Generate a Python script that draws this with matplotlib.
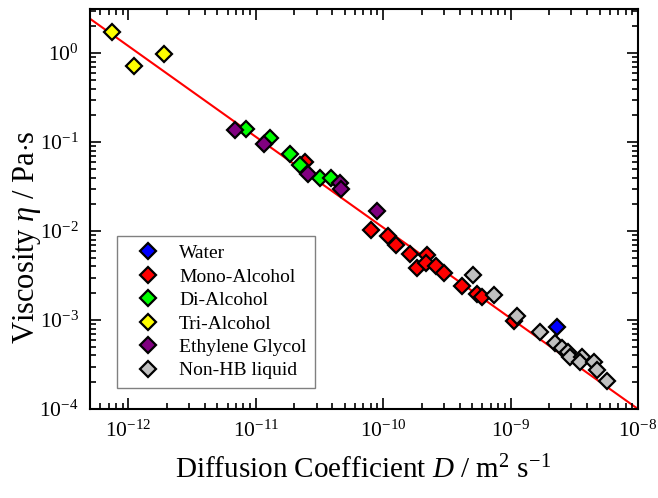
import numpy as np
import matplotlib
matplotlib.use("Agg")
import matplotlib.pyplot as plt
from matplotlib.ticker import LogLocator, FuncFormatter, NullFormatter

plt.rcParams['font.family'] = 'Liberation Serif'
plt.rcParams['mathtext.fontset'] = 'custom'
plt.rcParams['mathtext.rm'] = 'Liberation Serif'
plt.rcParams['mathtext.it'] = 'Liberation Serif:italic'

# diffusion coefficient D (m^2/s) and viscosity eta (Pa s) per liquid class
water_D = [2.32e-9]
water_eta = [8.4e-4]

mono_D = [2.45e-11, 8.04e-11, 1.10e-10, 1.26e-10, 1.62e-10, 1.85e-10, 2.19e-10,
          2.18e-10, 2.59e-10, 3.02e-10, 4.16e-10, 5.46e-10, 5.98e-10, 1.06e-9]
mono_eta = [0.0591, 0.0104, 0.00885, 0.00692, 0.00558, 0.00381, 0.00534,
            0.00434, 0.00401, 0.00337, 0.00242, 0.00198, 0.00181, 0.000988]

di_D = [8.43e-12, 1.30e-11, 1.87e-11, 2.21e-11, 3.21e-11, 3.90e-11]
di_eta = [0.139, 0.112, 0.0733, 0.0551, 0.0397, 0.0397]

tri_D = [7.4e-13, 1.1e-12, 1.89e-12]
tri_eta = [1.75, 0.72, 0.97]

eg_D = [6.92e-12, 1.15e-11, 2.55e-11, 4.56e-11, 4.68e-11, 8.95e-11]
eg_eta = [0.137, 0.0944, 0.0436, 0.0343, 0.0294, 0.0167]

nonhb_D = [5.04e-10, 7.46e-10, 1.12e-9, 1.71e-9, 2.25e-9, 2.54e-9, 2.83e-9,
           2.94e-9, 3.64e-9, 3.53e-9, 4.49e-9, 4.77e-9, 5.72e-9]
nonhb_eta = [0.00322, 0.00189, 0.00110, 0.000743, 0.000554, 0.000487, 0.000434,
             0.000381, 0.000381, 0.000335, 0.000341, 0.000275, 0.000208]

# power-law fit: log10(eta) = a + b*log10(D)
fit_a = -4.0 - 1.02 * 8.0
fit_b = -1.02

fig = plt.figure(figsize=(6.58, 4.98), dpi=100)
ax = fig.add_axes([0.1368, 0.1787, 0.8328, 0.8023])

D_line = np.logspace(np.log10(5e-13), -8, 50)
ax.plot(D_line, 10 ** (fit_a + fit_b * np.log10(D_line)), color='#ff0000', lw=1.5, zorder=1)

groups = [
    (water_D, water_eta, '#0000ff', 'Water'),
    (mono_D, mono_eta, '#ff0000', 'Mono-Alcohol'),
    (di_D, di_eta, '#00ff00', 'Di-Alcohol'),
    (tri_D, tri_eta, '#ffff00', 'Tri-Alcohol'),
    (eg_D, eg_eta, '#800080', 'Ethylene Glycol'),
    (nonhb_D, nonhb_eta, '#c0c0c0', 'Non-HB liquid'),
]
for D, eta, c, lab in groups:
    ax.plot(D, eta, linestyle='none', marker='D', ms=8, mfc=c, mec='black',
            mew=1.6, label=lab, zorder=3)

ax.set_xscale('log')
ax.set_yscale('log')
ax.set_xlim(5e-13, 1e-8)
ax.set_ylim(1e-4, 3.1)

def pow_fmt(v, pos):
    e = int(round(np.log10(v)))
    return r'$10^{%d}$' % e

for axis in (ax.xaxis, ax.yaxis):
    axis.set_major_locator(LogLocator(base=10, numticks=20))
    axis.set_minor_locator(LogLocator(base=10, subs=np.arange(2, 10), numticks=20))
    axis.set_major_formatter(FuncFormatter(pow_fmt))
    axis.set_minor_formatter(NullFormatter())

ax.tick_params(which='both', direction='in', top=True, right=True, labelsize=15.5, width=1.2)
ax.tick_params(which='major', length=8, pad=8)
ax.tick_params(which='minor', length=4)
for s in ax.spines.values():
    s.set_linewidth(1.5)

ax.set_xlabel(r'Diffusion Coefficient $\mathit{D}$ / m$^{2}$ s$^{-1}$', fontsize=21)
ax.set_ylabel(r'Viscosity $\mathit{\eta}$ / Pa$\cdot$s', fontsize=22)
ax.xaxis.set_label_coords(0.498, -0.118)
ax.yaxis.set_label_coords(-0.086, 0.43)

leg = ax.legend(loc='lower left', bbox_to_anchor=(0.049, 0.052), borderaxespad=0,
                fontsize=14, frameon=True, fancybox=False, edgecolor='#808080',
                framealpha=1, handletextpad=0.45, labelspacing=0.3, borderpad=0.45,
                handlelength=2.3)
leg.get_frame().set_linewidth(1.0)

fig.savefig('out.png', dpi=100)
